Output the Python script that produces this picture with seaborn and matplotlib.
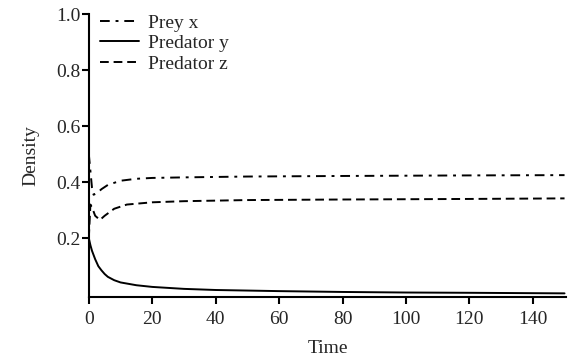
import numpy as np
import pandas as pd
import matplotlib
matplotlib.use("Agg")
import matplotlib.pyplot as plt
import seaborn as sns

# Data
t_prey = [0, 0.5, 1, 1.5, 2.5, 4, 6, 10, 15, 20, 30, 50, 80, 120, 150]
prey_x = [0.50, 0.44, 0.38, 0.355, 0.36, 0.375, 0.39, 0.405, 0.412, 0.415, 0.417, 0.420, 0.422, 0.424, 0.425]

t_y = [0, 0.5, 1, 2, 3, 4, 5, 6, 8, 10, 15, 20, 30, 40, 60, 80, 100, 120, 150]
pred_y = [0.20, 0.175, 0.155, 0.125, 0.10, 0.085, 0.072, 0.062, 0.05, 0.042, 0.032, 0.026, 0.019, 0.015, 0.011, 0.008, 0.006, 0.005, 0.003]

t_z = [0, 0.5, 1, 2, 3.5, 5, 8, 12, 20, 30, 50, 80, 120, 150]
pred_z = [0.20, 0.32, 0.31, 0.28, 0.265, 0.28, 0.305, 0.32, 0.328, 0.332, 0.336, 0.338, 0.340, 0.342]

series_names = ["Prey x", "Predator y", "Predator z"]
x_ticks = [0, 20, 40, 60, 80, 100, 120, 140]
y_ticks = [0.2, 0.4, 0.6, 0.8, 1.0]

df = pd.concat([
    pd.DataFrame({"Time": t_prey, "Density": prey_x, "Series": series_names[0]}),
    pd.DataFrame({"Time": t_y, "Density": pred_y, "Series": series_names[1]}),
    pd.DataFrame({"Time": t_z, "Density": pred_z, "Series": series_names[2]}),
], ignore_index=True)

sns.set_style("ticks")
plt.rcParams["font.family"] = ["Liberation Serif", "DejaVu Serif"]

fig = plt.figure(figsize=(5.73, 3.6), dpi=100)
ax = fig.add_axes([0.155, 0.175, 0.833, 0.786])

sns.lineplot(
    data=df, x="Time", y="Density", hue="Series", style="Series",
    palette=["black", "black", "black"],
    dashes={"Prey x": (5, 3, 1.5, 3), "Predator y": "", "Predator z": (4.5, 2.5)},
    linewidth=1.4, ax=ax, estimator=None, sort=False,
)

ax.set_xlim(0, 150.5)
ax.set_ylim(-0.01, 1.0)
ax.set_xticks(x_ticks)
ax.set_xticklabels([str(v) for v in x_ticks])
ax.set_yticks(y_ticks)
ax.set_yticklabels([f"{v:.1f}" for v in y_ticks])
ax.tick_params(axis="both", labelsize=14, length=5, width=1.5, direction="out", color="black")
ax.tick_params(axis="x", pad=5)
ax.tick_params(axis="y", pad=1)
ax.set_xlabel("Time", fontsize=14, labelpad=9)
ax.set_ylabel("Density", fontsize=14, labelpad=12)
sns.despine(ax=ax)
for s in ["left", "bottom"]:
    ax.spines[s].set_linewidth(1.5)
    ax.spines[s].set_color("black")

leg = ax.legend(loc="upper left", frameon=False, fontsize=14, handlelength=2.0,
                handletextpad=0.5, borderaxespad=0.0, borderpad=0.0,
                labelspacing=0.15, bbox_to_anchor=(0.023, 1.0))

fig.savefig("out.png", dpi=100)
